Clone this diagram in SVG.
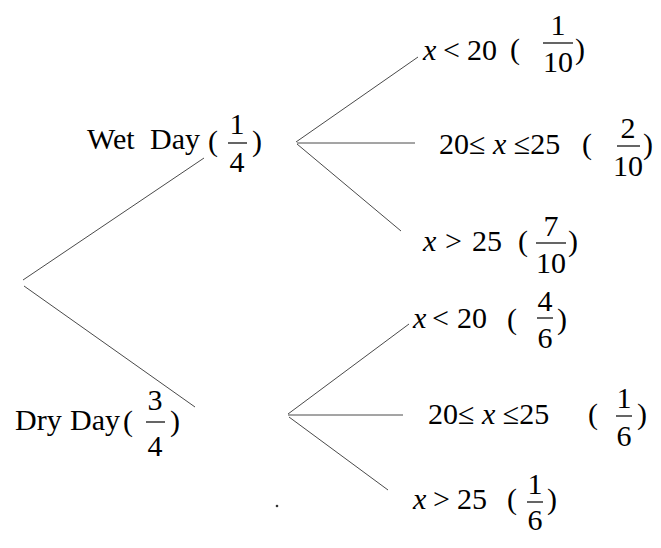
<svg xmlns="http://www.w3.org/2000/svg" width="661" height="548" viewBox="0 0 661 548" font-family="'Liberation Serif', 'Times New Roman', Times, 'DejaVu Serif', serif">
<style>
  text { font-size: 30px; fill: #000; }
  .it { font-style: italic; }
  .c { text-anchor: middle; }
  .bar { stroke: #111; stroke-width: 1.3; }
  .edge { stroke: #4a4a4a; stroke-width: 1; fill: none; }
</style>
<rect width="661" height="548" fill="#ffffff"/>
<g id="connectors">
  <line class="edge" x1="23" y1="280" x2="204" y2="158"/>
  <line class="edge" x1="24" y1="286" x2="195" y2="407"/>
  <line class="edge" x1="296" y1="142" x2="418" y2="57"/>
  <line class="edge" x1="297" y1="143" x2="415" y2="143"/>
  <line class="edge" x1="297" y1="144" x2="401" y2="231"/>
  <line class="edge" x1="288" y1="414" x2="409" y2="324"/>
  <line class="edge" x1="288" y1="415" x2="403" y2="415"/>
  <line class="edge" x1="289" y1="417" x2="388" y2="490"/>
</g>
<g id="wet-day">
  <text x="87" y="149">Wet</text>
  <text x="150" y="149">Day</text>
  <text x="208" y="151">(</text>
  <text class="c" x="237" y="134">1</text>
  <line class="bar" x1="228" y1="143" x2="247" y2="143"/>
  <text class="c" x="237" y="172">4</text>
  <text x="252" y="151">)</text>
</g>
<g id="dry-day">
  <text x="15" y="430">Dry</text>
  <text x="70" y="430">Day</text>
  <text x="123" y="431">(</text>
  <text class="c" x="155" y="410">3</text>
  <line class="bar" x1="146" y1="422" x2="165" y2="422"/>
  <text class="c" x="155" y="456">4</text>
  <text x="170" y="431">)</text>
</g>
<g id="wet-lt20">
  <text x="423" y="60" class="it">x</text>
  <text x="443" y="60">&lt;</text>
  <text x="467" y="60">20</text>
  <text x="510" y="59">(</text>
  <text class="c" x="558" y="35">1</text>
  <line class="bar" x1="543" y1="43" x2="573" y2="43"/>
  <text class="c" x="558" y="72">10</text>
  <text x="575" y="59">)</text>
</g>
<g id="wet-mid">
  <text x="439" y="154">20≤ <tspan class="it">x</tspan> ≤25</text>
  <text x="582" y="154">(</text>
  <text class="c" x="628" y="138">2</text>
  <line class="bar" x1="617" y1="146" x2="640" y2="146"/>
  <text class="c" x="628" y="176">10</text>
  <text x="643" y="154">)</text>
</g>
<g id="wet-gt25">
  <text x="423" y="251" class="it">x</text>
  <text x="445" y="251">&gt;</text>
  <text x="472" y="251">25</text>
  <text x="518" y="251">(</text>
  <text class="c" x="551" y="236">7</text>
  <line class="bar" x1="536" y1="243" x2="566" y2="243"/>
  <text class="c" x="551" y="273">10</text>
  <text x="568" y="251">)</text>
</g>
<g id="dry-lt20">
  <text x="413" y="328" class="it">x</text>
  <text x="432" y="328">&lt;</text>
  <text x="457" y="328">20</text>
  <text x="507" y="329">(</text>
  <text class="c" x="545" y="311">4</text>
  <line class="bar" x1="537" y1="318" x2="553" y2="318"/>
  <text class="c" x="545" y="348">6</text>
  <text x="557" y="329">)</text>
</g>
<g id="dry-mid">
  <text x="428" y="424">20≤ <tspan class="it">x</tspan> ≤25</text>
  <text x="588" y="424">(</text>
  <text class="c" x="624" y="408">1</text>
  <line class="bar" x1="616" y1="416" x2="632" y2="416"/>
  <text class="c" x="624" y="446">6</text>
  <text x="637" y="424">)</text>
</g>
<g id="dry-gt25">
  <text x="413" y="509" class="it">x</text>
  <text x="433" y="509">&gt;</text>
  <text x="457" y="509">25</text>
  <text x="507" y="509">(</text>
  <text class="c" x="535" y="494">1</text>
  <line class="bar" x1="527" y1="502" x2="543" y2="502"/>
  <text class="c" x="535" y="530">6</text>
  <text x="547" y="509">)</text>
</g>
<circle cx="277" cy="506" r="1.3" fill="#333"/>
</svg>
